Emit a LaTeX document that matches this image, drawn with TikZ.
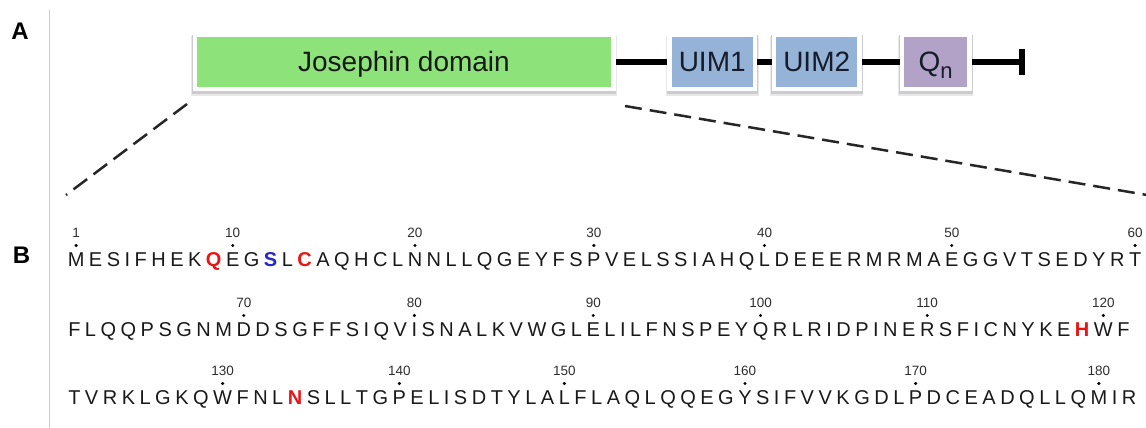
\documentclass[tikz,border=0pt]{standalone}
\usepackage{fontspec}
\setmainfont{Liberation Sans}
\usetikzlibrary{arrows.meta,backgrounds}
\definecolor{jgreen}{RGB}{142,226,122}
\definecolor{uimblue}{RGB}{149,179,215}
\definecolor{qpurple}{RGB}{179,162,199}
\definecolor{ink}{RGB}{25,25,25}
\definecolor{boxink}{RGB}{22,28,42}
\definecolor{resR}{RGB}{235,20,20}
\definecolor{resB}{RGB}{40,40,200}
\newcommand\resred[1]{\textcolor{resR}{\bfseries #1}}
\newcommand\resblue[1]{\textcolor{resB}{\bfseries #1}}
\tikzset{
  domainbox/.style={draw=white, line width=4.5pt, minimum height=54pt, inner sep=0pt,
    text height=20pt, text depth=0pt, text=boxink, font=\fontsize{28}{30}\selectfont},
  shadowsoft/.style={fill=black!9},
  shadowcore/.style={fill=black!20},
  conn/.style={line width=6.5pt, black},
  zoomline/.style={line width=2.5pt, dash pattern=on 17pt off 8pt, black!85},
  res/.style={anchor=base west, inner xsep=2.25pt, inner ysep=0pt, outer sep=0pt,
    font=\fontsize{20}{24}\selectfont, text=ink},
  startnode/.style={inner sep=0pt, outer sep=0pt, anchor=base east},
  resnum/.style={anchor=base, inner sep=0pt, font=\fontsize{13.5}{14}\selectfont, text=black!82},
  resdot/.style={fill=black},
  panel/.style={font=\fontsize{24}{26}\selectfont\bfseries},
  sepline/.style={black!20, line width=1pt}
}
\begin{document}
\begin{tikzpicture}[x=1pt,y=-1pt]
\useasboundingbox (0,0) rectangle (1146,428);
\draw[sepline] (49.5,10) -- (49.5,428);
\node[panel] (labA) at (20,31) {A};
\node[panel] (labB) at (21.5,255.5) {B};

% domain architecture
\coordinate (zl1) at (187,104);
\coordinate (zl2) at (66,195);
\coordinate (zr1) at (625,106);
\coordinate (zr2) at (1150,195.5);
\draw[zoomline] (zl1) -- (zl2);
\draw[zoomline] (zr1) -- (zr2);

\node[domainbox, fill=jgreen, minimum width=418.5pt, text=ink] (jos) at (404,62) {Josephin domain};
\node[domainbox, fill=uimblue, minimum width=85.5pt] (uim1) at (712.2,62) {UIM1};
\node[domainbox, fill=uimblue, minimum width=85.8pt] (uim2) at (816.7,62) {UIM2};
\node[domainbox, fill=qpurple, minimum width=67.8pt] (qn) at (935.7,62) {Q\raisebox{-6pt}{\fontsize{22}{22}\selectfont n}};
\begin{scope}[on background layer]
  \foreach \b in {jos,uim1,uim2,qn} {
    \fill[shadowsoft] ([shift={(-1.6,3)}]\b.north west) rectangle ([shift={(1.6,4.5)}]\b.south east);
    \fill[shadowcore] ([shift={(-0.7,2)}]\b.north west) rectangle ([shift={(0.7,2.8)}]\b.south east);
  }
\end{scope}
\coordinate (cend) at (1025,62);
\draw[conn] (jos) -- (uim1);
\draw[conn] (uim1) -- (uim2);
\draw[conn] (uim2) -- (qn);
\draw[conn, -{Bar[width=26pt]}] (qn) -- (cend);

% sequence row 1
\node[startnode] (a0) at (65.5,266.5) {};
\foreach \l [count=\i, remember=\i as \j (initially 0)] in
 {M,E,S,I,F,H,E,K,\resred{Q},E,G,\resblue{S},L,\resred{C},A,Q,H,C,L,N,
  N,L,L,Q,G,E,Y,F,S,P,V,E,L,S,S,I,A,H,Q,L,
  D,E,E,E,R,M,R,M,A,E,G,G,V,T,S,E,D,Y,R,T}
  \node[res] (a\i) at (a\j.base east) {\l};
\foreach \k/\n in {1/1,10/10,20/20,30/30,40/40,50/50,60/60} {
  \fill[resdot] ([yshift=21pt]a\k.base) circle[radius=1.7pt];
  \node[resnum] (na\k) at ([yshift=29pt]a\k.base) {\n};
}

% sequence row 2
\node[startnode] (b0) at (66,336.5) {};
\foreach \l [count=\i, remember=\i as \j (initially 0)] in
 {F,L,Q,Q,P,S,G,N,M,D,D,S,G,F,F,S,I,Q,V,I,
  S,N,A,L,K,V,W,G,L,E,L,I,L,F,N,S,P,E,Y,Q,
  R,L,R,I,D,P,I,N,E,R,S,F,I,C,N,Y,K,E,\resred{H},W,F}
  \node[res] (b\i) at (b\j.base east) {\l};
\foreach \k/\n in {10/70,20/80,30/90,40/100,50/110,60/120} {
  \fill[resdot] ([yshift=21pt]b\k.base) circle[radius=1.7pt];
  \node[resnum] (nb\k) at ([yshift=29pt]b\k.base) {\n};
}

% sequence row 3
\node[startnode] (c0) at (66,404.5) {};
\foreach \l [count=\i, remember=\i as \j (initially 0)] in
 {T,V,R,K,L,G,K,Q,W,F,N,L,\resred{N},S,L,L,T,G,P,E,
  L,I,S,D,T,Y,L,A,L,F,L,A,Q,L,Q,Q,E,G,Y,S,
  I,F,V,V,K,G,D,L,P,D,C,E,A,D,Q,L,L,Q,M,I,R}
  \node[res] (c\i) at (c\j.base east) {\l};
\foreach \k/\n in {9/130,19/140,29/150,39/160,49/170,59/180} {
  \fill[resdot] ([yshift=21pt]c\k.base) circle[radius=1.7pt];
  \node[resnum] (nc\k) at ([yshift=29pt]c\k.base) {\n};
}
\end{tikzpicture}
\end{document}
